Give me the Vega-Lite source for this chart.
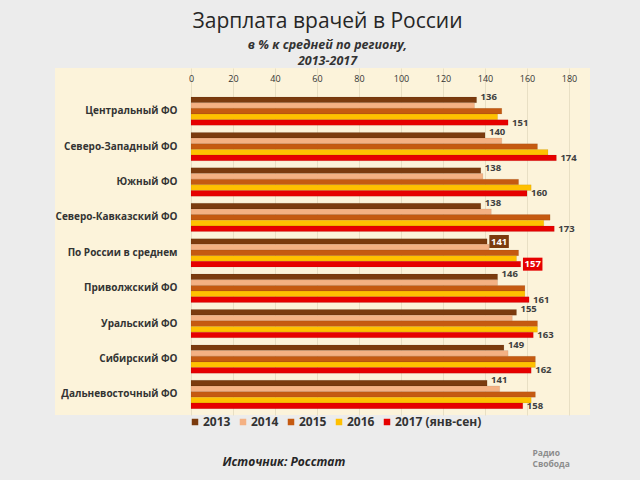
{
  "$schema": "https://vega.github.io/schema/vega-lite/v6.json",
  "width": 535,
  "height": 347,
  "autosize": {"type": "none"},
  "padding": {"left": 55, "top": 68, "right": 50, "bottom": 65},
  "background": "#ececec",
  "config": {"font": "Open Sans", "view": {"fill": "#fcf3da", "stroke": null}},
  "title": {
    "text": "Зарплата врачей в России",
    "subtitle": ["в % к средней  по региону,", "2013-2017"],
    "anchor": "middle",
    "dx": 5,
    "fontSize": 21,
    "fontWeight": 500,
    "color": "#262626",
    "subtitleFontSize": 12.5,
    "subtitleFontStyle": "italic",
    "subtitleFontWeight": "bold",
    "subtitleColor": "#333333",
    "subtitlePadding": 7,
    "subtitleLineHeight": 16,
    "offset": 1
  },
  "data": {
    "values": [
      {"region": "Центральный ФО", "series": "2013", "value": 136},
      {"region": "Центральный ФО", "series": "2014", "value": 135},
      {"region": "Центральный ФО", "series": "2015", "value": 148},
      {"region": "Центральный ФО", "series": "2016", "value": 146},
      {"region": "Центральный ФО", "series": "2017 (янв-сен)", "value": 151},
      {"region": "Северо-Западный ФО", "series": "2013", "value": 140},
      {"region": "Северо-Западный ФО", "series": "2014", "value": 148},
      {"region": "Северо-Западный ФО", "series": "2015", "value": 165},
      {"region": "Северо-Западный ФО", "series": "2016", "value": 170},
      {"region": "Северо-Западный ФО", "series": "2017 (янв-сен)", "value": 174},
      {"region": "Южный ФО", "series": "2013", "value": 138},
      {"region": "Южный ФО", "series": "2014", "value": 139},
      {"region": "Южный ФО", "series": "2015", "value": 156},
      {"region": "Южный ФО", "series": "2016", "value": 162},
      {"region": "Южный ФО", "series": "2017 (янв-сен)", "value": 160},
      {"region": "Северо-Кавказский ФО", "series": "2013", "value": 138},
      {"region": "Северо-Кавказский ФО", "series": "2014", "value": 143},
      {"region": "Северо-Кавказский ФО", "series": "2015", "value": 171},
      {"region": "Северо-Кавказский ФО", "series": "2016", "value": 168},
      {"region": "Северо-Кавказский ФО", "series": "2017 (янв-сен)", "value": 173},
      {"region": "По России в среднем", "series": "2013", "value": 141},
      {"region": "По России в среднем", "series": "2014", "value": 142},
      {"region": "По России в среднем", "series": "2015", "value": 156},
      {"region": "По России в среднем", "series": "2016", "value": 155},
      {"region": "По России в среднем", "series": "2017 (янв-сен)", "value": 157},
      {"region": "Приволжский ФО", "series": "2013", "value": 146},
      {"region": "Приволжский ФО", "series": "2014", "value": 146},
      {"region": "Приволжский ФО", "series": "2015", "value": 159},
      {"region": "Приволжский ФО", "series": "2016", "value": 159},
      {"region": "Приволжский ФО", "series": "2017 (янв-сен)", "value": 161},
      {"region": "Уральский ФО", "series": "2013", "value": 155},
      {"region": "Уральский ФО", "series": "2014", "value": 153},
      {"region": "Уральский ФО", "series": "2015", "value": 165},
      {"region": "Уральский ФО", "series": "2016", "value": 165},
      {"region": "Уральский ФО", "series": "2017 (янв-сен)", "value": 163},
      {"region": "Сибирский ФО", "series": "2013", "value": 149},
      {"region": "Сибирский ФО", "series": "2014", "value": 151},
      {"region": "Сибирский ФО", "series": "2015", "value": 164},
      {"region": "Сибирский ФО", "series": "2016", "value": 164},
      {"region": "Сибирский ФО", "series": "2017 (янв-сен)", "value": 162},
      {"region": "Дальневосточный ФО", "series": "2013", "value": 141},
      {"region": "Дальневосточный ФО", "series": "2014", "value": 147},
      {"region": "Дальневосточный ФО", "series": "2015", "value": 164},
      {"region": "Дальневосточный ФО", "series": "2016", "value": 162},
      {"region": "Дальневосточный ФО", "series": "2017 (янв-сен)", "value": 158}
    ]
  },
  "encoding": {
    "yOffset": {
      "field": "series",
      "type": "nominal",
      "scale": {"domain": ["2013", "2014", "2015", "2016", "2017 (янв-сен)"], "paddingInner": 0, "paddingOuter": 0}
    }
  },
  "layer": [
    {
      "mark": {"type": "bar", "stroke": "#00000022", "strokeWidth": 0.5},
      "encoding": {
        "x": {
          "field": "value", "type": "quantitative",
          "scale": {"domain": [-64.76, 190], "nice": false, "zero": false},
          "axis": {
            "orient": "top", "values": [0, 20, 40, 60, 80, 100, 120, 140, 160, 180],
            "offset": -16, "grid": true, "gridColor": "#e8dfc4", "ticks": false, "tickSize": 0, "domain": false,
            "labelFontSize": 9, "labelColor": "#333333", "labelPadding": 1, "title": null
          }
        },
        "y": {
          "field": "region", "type": "nominal",
          "scale": {
            "domain": ["Центральный ФО", "Северо-Западный ФО", "Южный ФО", "Северо-Кавказский ФО", "По России в среднем", "Приволжский ФО", "Уральский ФО", "Сибирский ФО", "Дальневосточный ФО"],
            "paddingInner": 0.2, "paddingOuter": 0.5, "align": 0.82
          },
          "axis": {
            "orient": "left", "offset": -136, "ticks": false, "tickSize": 0, "domain": false, "grid": false,
            "labelPadding": 14, "labelFontSize": 10, "labelFontWeight": "bold", "labelColor": "#333333",
            "labelLimit": 250, "title": null
          }
        },
        "color": {
          "field": "series", "type": "nominal",
          "scale": {
            "domain": ["2013", "2014", "2015", "2016", "2017 (янв-сен)"],
            "range": ["#7b3b0e", "#f4b183", "#c55a11", "#ffc000", "#e60000"]
          },
          "legend": {
            "orient": "none", "legendX": 134, "legendY": 348, "direction": "horizontal", "title": null,
            "symbolType": "square", "symbolSize": 42, "symbolStrokeWidth": 0, "labelFontSize": 12, "labelFontWeight": "bold",
            "labelColor": "#333333", "columnPadding": 6, "labelOffset": 2
          }
        }
      }
    },
    {
      "transform": [{"filter": "datum.series === '2017 (янв-сен)' && datum.region !== 'По России в среднем'"}],
      "mark": {"type": "text", "align": "left", "dx": 4, "dy": 0, "fontSize": 9.5, "fontWeight": "bold", "color": "#404040"},
      "encoding": {
        "x": {
          "field": "value", "type": "quantitative",
          "scale": {"domain": [-64.76, 190], "nice": false, "zero": false},
          "axis": {
            "orient": "bottom", "labels": false, "ticks": false, "domain": false, "grid": false,
            "title": "Источник: Росстат", "titleX": 167, "titleY": 46, "titleAlign": "left", "titleAnchor": "start",
            "titleBaseline": "middle", "titleFontSize": 12, "titleFontStyle": "italic", "titleFontWeight": "bold",
            "titleColor": "#262626"
          }
        },
        "y": {
          "field": "region", "type": "nominal",
          "scale": {
            "domain": ["Центральный ФО", "Северо-Западный ФО", "Южный ФО", "Северо-Кавказский ФО", "По России в среднем", "Приволжский ФО", "Уральский ФО", "Сибирский ФО", "Дальневосточный ФО"],
            "paddingInner": 0.2, "paddingOuter": 0.5, "align": 0.82
          },
          "axis": {
            "orient": "right", "labels": false, "ticks": false, "domain": false, "grid": false,
            "title": ["Радио", "Свобода"], "titleAngle": 0, "titleX": -58, "titleY": 384, "titleAlign": "left",
            "titleBaseline": "middle", "titleFontSize": 8.5, "titleFontWeight": "bold", "titleColor": "#8c8c8c",
            "titleLineHeight": 11
          }
        },
        "text": {"field": "value", "type": "quantitative"}
      }
    },
    {
      "transform": [{"filter": "datum.series === '2013' && datum.region !== 'По России в среднем'"}],
      "mark": {"type": "text", "align": "left", "dx": 4, "dy": -3, "fontSize": 9.5, "fontWeight": "bold", "color": "#404040"},
      "encoding": {
        "x": {"field": "value", "type": "quantitative", "scale": {"domain": [-64.76, 190], "nice": false, "zero": false}, "axis": null},
        "y": {
          "field": "region", "type": "nominal",
          "scale": {
            "domain": ["Центральный ФО", "Северо-Западный ФО", "Южный ФО", "Северо-Кавказский ФО", "По России в среднем", "Приволжский ФО", "Уральский ФО", "Сибирский ФО", "Дальневосточный ФО"],
            "paddingInner": 0.2, "paddingOuter": 0.5, "align": 0.82
          },
          "axis": null
        },
        "text": {"field": "value", "type": "quantitative"}
      }
    },
    {
      "transform": [{"filter": "datum.region === 'По России в среднем' && (datum.series === '2013' || datum.series === '2017 (янв-сен)')"}],
      "mark": {"type": "point", "shape": "M-1.5,-1H1.5V1H-1.5Z", "filled": true, "opacity": 1, "size": 169, "xOffset": 12},
      "encoding": {
        "x": {"field": "value", "type": "quantitative", "scale": {"domain": [-64.76, 190], "nice": false, "zero": false}, "axis": null},
        "y": {
          "field": "region", "type": "nominal",
          "scale": {
            "domain": ["Центральный ФО", "Северо-Западный ФО", "Южный ФО", "Северо-Кавказский ФО", "По России в среднем", "Приволжский ФО", "Уральский ФО", "Сибирский ФО", "Дальневосточный ФО"],
            "paddingInner": 0.2, "paddingOuter": 0.5, "align": 0.82
          },
          "axis": null
        },
        "color": {"field": "series", "type": "nominal", "legend": null}
      }
    },
    {
      "transform": [{"filter": "datum.region === 'По России в среднем' && (datum.series === '2013' || datum.series === '2017 (янв-сен)')"}],
      "mark": {"type": "text", "align": "center", "dx": 12, "fontSize": 9.5, "fontWeight": "bold", "color": "#ffffff"},
      "encoding": {
        "x": {"field": "value", "type": "quantitative", "scale": {"domain": [-64.76, 190], "nice": false, "zero": false}, "axis": null},
        "y": {
          "field": "region", "type": "nominal",
          "scale": {
            "domain": ["Центральный ФО", "Северо-Западный ФО", "Южный ФО", "Северо-Кавказский ФО", "По России в среднем", "Приволжский ФО", "Уральский ФО", "Сибирский ФО", "Дальневосточный ФО"],
            "paddingInner": 0.2, "paddingOuter": 0.5, "align": 0.82
          },
          "axis": null
        },
        "text": {"field": "value", "type": "quantitative"}
      }
    }
  ],
  "resolve": {"axis": {"x": "independent", "y": "independent"}}
}
